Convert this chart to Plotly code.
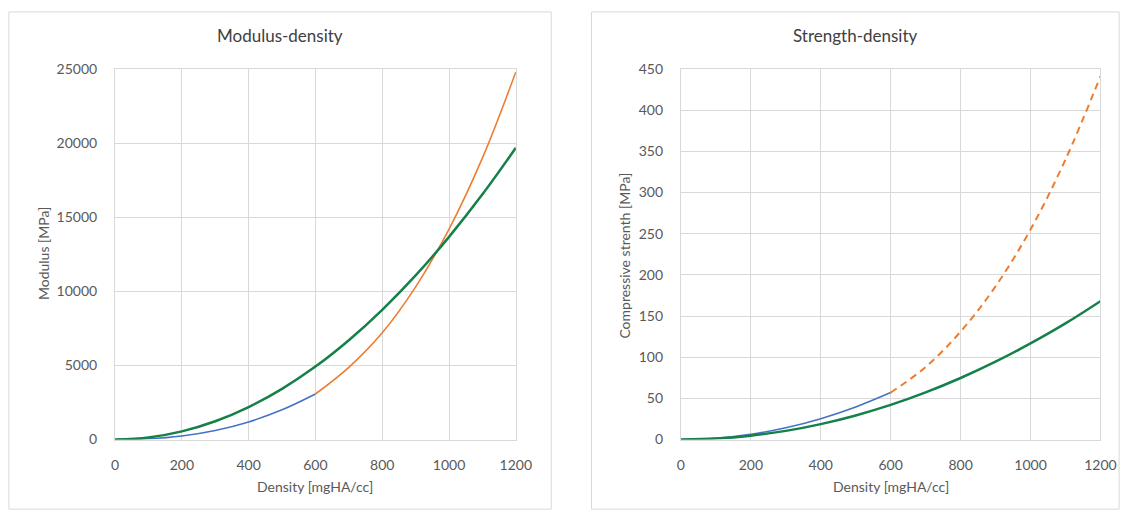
import plotly.graph_objects as go

# ---- data ----
density_all = [0, 100, 200, 300, 400, 500, 600, 700, 800, 900, 1000, 1100, 1200]
density_low = [0, 100, 200, 300, 400, 500, 600]
density_high = [600, 700, 800, 900, 1000, 1100, 1200]

modulus_blue = [0, 47, 237, 610, 1185, 2000, 3070]
modulus_orange = [3070, 4870, 7200, 10300, 14200, 19000, 24800]
modulus_green = [0, 137, 547, 1230, 2190, 3420, 4920, 6700, 8750, 11070, 13670, 16540, 19680]

strength_blue = [0, 1.6, 6.3, 14.2, 25.3, 39.5, 57]
strength_orange = [57, 88, 131, 186, 255, 340, 441]
strength_green = [0, 1.2, 4.7, 10.5, 18.7, 29.2, 42, 57.2, 74.7, 94.5, 116.7, 141, 168]

x_ticks = [0, 200, 400, 600, 800, 1000, 1200]
mod_ticks = [0, 5000, 10000, 15000, 20000, 25000]
str_ticks = [0, 50, 100, 150, 200, 250, 300, 350, 400, 450]

BLUE = "#4472C4"
ORANGE = "#ED7D31"
GREEN = "#16804A"
GRID = "#D9D9D9"
TXT = "#595959"
FONT = "Lato"
W, H = 1140, 522

fig = go.Figure()

# Left panel
fig.add_trace(go.Scatter(x=density_low, y=modulus_blue, mode="lines", line=dict(color=BLUE, width=1.6, shape="spline"),
                         xaxis="x", yaxis="y", showlegend=False))
fig.add_trace(go.Scatter(x=density_high, y=modulus_orange, mode="lines", line=dict(color=ORANGE, width=1.6, shape="spline"),
                         xaxis="x", yaxis="y", showlegend=False))
fig.add_trace(go.Scatter(x=density_all, y=modulus_green, mode="lines", line=dict(color=GREEN, width=2.5, shape="spline"),
                         xaxis="x", yaxis="y", showlegend=False))

# Right panel
fig.add_trace(go.Scatter(x=density_low, y=strength_blue, mode="lines", line=dict(color=BLUE, width=1.6, shape="spline"),
                         xaxis="x2", yaxis="y2", showlegend=False))
fig.add_trace(go.Scatter(x=density_high, y=strength_orange, mode="lines",
                         line=dict(color=ORANGE, width=2, dash="7px,5px", shape="spline"),
                         xaxis="x2", yaxis="y2", showlegend=False))
fig.add_trace(go.Scatter(x=density_all, y=strength_green, mode="lines", line=dict(color=GREEN, width=2.5, shape="spline"),
                         xaxis="x2", yaxis="y2", showlegend=False))

# plot area pixel geometry
L_x0, L_x1 = 113, 521
R_x0, R_x1 = 689, 1116
Y_top, Y_bot = 62, 445
ydom = [(H - Y_bot) / H, (H - Y_top) / H]

axis_common = dict(
    showgrid=True, gridcolor=GRID, gridwidth=1, zeroline=False,
    showline=True, linecolor=GRID, linewidth=1, mirror=True,
    ticks="outside", tickcolor="rgba(0,0,0,0)", tickformat="d",
    tickfont=dict(family=FONT, size=14, color=TXT),
)


def ann(text, x, y, size=14, color=TXT, angle=0):
    return dict(text=text, xref="paper", yref="paper", x=x / W, y=(H - y) / H,
                xanchor="center", yanchor="middle", textangle=angle, showarrow=False,
                font=dict(family=FONT, size=size, color=color))


fig.update_layout(
    width=W, height=H,
    margin=dict(l=0, r=0, t=0, b=0),
    paper_bgcolor="white", plot_bgcolor="white",
    xaxis=dict(domain=[L_x0 / W, L_x1 / W], range=[0, 1200], tickvals=x_ticks, ticklen=13,
               anchor="y", **axis_common),
    yaxis=dict(domain=ydom, range=[0, 25000], tickvals=mod_ticks, ticklen=14,
               anchor="x", **axis_common),
    xaxis2=dict(domain=[R_x0 / W, R_x1 / W], range=[0, 1200], tickvals=x_ticks, ticklen=13,
                anchor="y2", **axis_common),
    yaxis2=dict(domain=ydom, range=[0, 450], tickvals=str_ticks, ticklen=14,
                anchor="x2", **axis_common),
    shapes=[
        dict(type="rect", xref="paper", yref="paper", x0=5 / W, x1=557 / W, y0=(H - 517) / H, y1=(H - 3) / H,
             line=dict(color=GRID, width=1), layer="below"),
        dict(type="rect", xref="paper", yref="paper", x0=598 / W, x1=1135 / W, y0=(H - 517) / H, y1=(H - 3) / H,
             line=dict(color=GRID, width=1), layer="below"),
    ],
    annotations=[
        ann("Modulus-density", 281, 27, size=17, color="#404040"),
        ann("Strength-density", 866, 27, size=17, color="#404040"),
        ann("Density [mgHA/cc]", (L_x0 + L_x1) / 2, 494),
        ann("Density [mgHA/cc]", (R_x0 + R_x1) / 2, 494),
        ann("Modulus [MPa]", 40, 253, angle=-90),
        ann("Compressive strenth [MPa]", 632, 255, angle=-90),
    ],
)

fig.write_html("out.html")
